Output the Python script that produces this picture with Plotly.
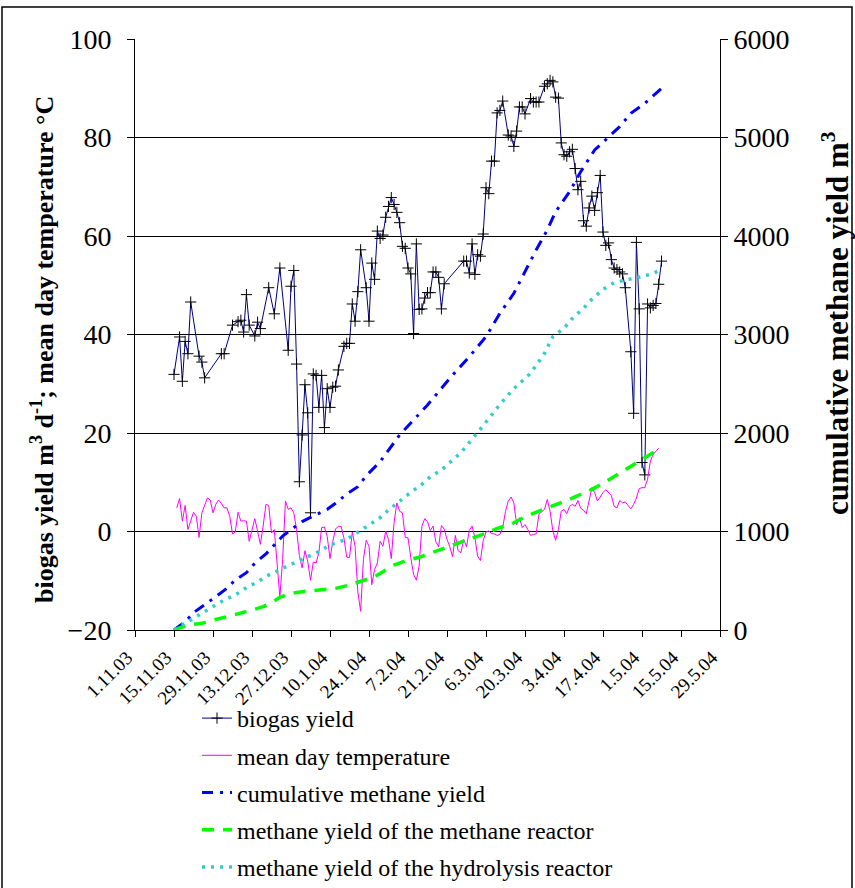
import datetime as dt
import plotly.graph_objects as go

# ---------------- data ----------------
start_date = dt.date(2003, 11, 1)

x_tick_labels = ["1.11.03", "15.11.03", "29.11.03", "13.12.03", "27.12.03", "10.1.04",
                 "24.1.04", "7.2.04", "21.2.04", "6.3.04", "20.3.04", "3.4.04",
                 "17.4.04", "1.5.04", "15.5.04", "29.5.04"]

# biogas yield m3/d  (day offsets from 1.11.03)
biogas_day = [14, 16, 17, 18, 19, 20, 23, 24, 25,
              31, 32, 35, 37, 38, 39, 40, 41, 43, 44, 45,
              48, 50, 52, 55, 56, 57, 58, 59, 60, 61, 62, 63, 64, 65, 66, 67, 68, 69, 70, 71, 72, 73,
              75, 76, 77, 78, 79, 80, 81, 83, 84, 85, 86, 87, 88, 89, 90, 91, 92, 93, 94, 95, 96, 97, 98, 99, 100,
              101, 102, 103, 104, 105, 106, 107, 108, 109, 110, 111,
              118, 119, 120, 121, 122, 123, 124, 125, 126, 127, 128, 129, 130, 131, 132,
              134, 135, 136, 137, 138, 139, 140,
              142, 143, 144, 145,
              147, 148, 149, 150, 151, 152, 153, 154, 155, 156, 157, 158, 159, 160, 161, 162, 163, 164, 165,
              166, 167, 168, 169, 170, 171, 172, 173, 174, 175, 176,
              178, 179, 180, 181, 182, 183, 184, 185, 186, 187, 188, 189]
biogas_val = [31.9, 39.5, 30.5, 38.6, 36.1, 46.6, 35.6, 34.4, 31.2,
              36.1, 36.1, 41.9, 42.6, 42.9, 40.5, 48.1, 41.9, 39.7, 42.5, 41.2,
              49.5, 44.2, 53.5, 36.8, 49.8, 53.0, 34.0, 10.1, 19.6, 29.8, 24.1, 3.8, 32.0, 31.7, 25.2, 31.7,
              21.1, 29.0, 25.2, 29.3, 29.5, 32.8,
              37.6, 38.2, 38.2, 46.2, 42.7, 48.7, 57.2, 49.5, 42.7, 54.5, 51.2, 61.0, 59.5, 60.2, 63.8, 66.0,
              67.8, 66.4, 64.8, 62.7, 57.9, 57.5, 53.5, 52.3, 40.2,
              58.4, 45.1, 45.2, 47.4, 48.5, 48.5, 52.7, 52.7, 51.6, 45.2, 50.3,
              54.9, 54.9, 52.5, 58.4, 52.2, 56.2, 55.9, 60.4, 69.8, 68.6, 75.2, 75.2, 85.0, 85.5, 87.4,
              80.5, 80.3, 78.2, 81.3, 86.2, 86.2, 84.8,
              87.9, 87.2, 87.2, 87.2,
              90.4, 90.9, 91.6, 91.3, 88.2, 88.0, 78.9, 76.5, 76.2, 77.1, 77.6, 73.7, 69.4, 71.1, 63.1, 62.0,
              65.7, 68.1, 65.2, 68.8, 72.3, 60.8, 58.1, 58.6, 55.2, 53.5, 53.2, 52.7, 52.3, 49.5,
              36.5, 24.0, 58.7, 45.2, 14.0, 11.5, 46.2, 45.4, 45.9, 46.3, 50.2, 54.9]

# mean day temperature (daily, first value on day offset 15)
temp_first_day = 15
temp_val = [4.8, 6.7, 2.1, 5.3, 0.4, 2.1, 3.9, 3.1, -1.2, 3.8, 5.5, 6.8, 6.4, 3.8, 5.5, 6.4, 5.7, 4.8,
            4.8, 3.1, -0.5, -0.1, 3.9, 2.1, 2.2, 2.1, -2.0, 0.1, 2.6, 0.1, -2.6, 1.1, 5.5, 5.3, -0.3,
            0.4, -5.7, -13.3, -5.7, 6.2, 4.5, 4.8, 3.8, 0.4, -4.9, -7.4, -3.9, -6.0, -9.9, -6.2, -6.4,
            -4.3, 0.8, 0.9, -1.0, -5.5, -2.0, 0.5, 1.1,
            1.0, -1.3, -5.2, -5.3, -0.1, -3.0, -12.3, -16.2, -5.7, -1.8, -3.0, -10.8, -7.7, -6.4, -2.0,
            -3.0, 0.1, -1.6, -5.5, 1.8, 5.8, 4.1, 3.8, -1.2, -1.3, -5.3, -8.7, -9.9, -7.0, 1.1, 2.6,
            2.0, 0.2, 1.1, -2.1, -3.1, 1.2, 0.5, -1.6, -3.1, -5.1, -0.8, -3.9, -4.3, -1.6, -3.1, 0.2,
            1.1, -1.2, -5.0, -5.9, -1.8, -0.1, 0.1, -0.4, -0.5, -0.8,
            -0.6, 0.8, 4.1, 6.2, 7.0, 5.8, 1.4, 2.8, 0.8, 1.4, 0.4, -0.8, -0.6, -0.5, 3.5, 4.1, 4.5,
            6.5, 4.1, 0.1, -1.8, 0.4, 4.1, 4.5, 3.6, 5.1, 5.5, 5.1, 6.3, 4.7, 4.3, 3.6, 6.2, 8.9, 7.9,
            6.2, 7.0, 7.9, 8.5, 8.0, 7.3, 5.1, 4.8, 6.3, 5.8, 6.0, 5.3, 4.6, 5.5, 6.8, 8.7, 8.9, 8.9,
            10.6, 14.3, 15.6, 16.3, 16.9]

# cumulative methane yield m3
cum_day = [14, 18, 21, 25, 29, 33, 36, 40, 43, 47, 50, 53, 57, 60, 64, 69, 72, 76, 80, 83,
           88, 95, 105, 113, 120, 126, 131, 136, 140, 144, 148, 151, 156, 160, 165, 169, 174, 178, 183, 187, 189]
cum_val = [0, 84, 176, 254, 338, 423, 508, 582, 677, 772, 863, 954, 1039, 1100, 1157, 1225, 1286, 1380, 1455, 1566,
           1709, 1980, 2284, 2555, 2775, 2978, 3215, 3418, 3638, 3858, 4061, 4247, 4450, 4653, 4873, 4975,
           5110, 5246, 5347, 5449, 5499]

# methane yield of the methane reactor m3
meth_day = [14, 19, 24, 27, 33, 38, 42, 46, 49, 52, 56, 60, 66, 72, 77, 81, 86, 90, 93, 98,
            102, 106, 110, 114, 118, 123, 127, 130, 135, 139, 143, 147, 151, 156, 160, 164, 168, 172, 176, 180,
            183, 187, 188]
meth_val = [0, 51, 68, 94, 135, 170, 203, 237, 277, 332, 373, 389, 406, 423, 457, 497, 541, 609, 660, 711,
            738, 779, 822, 856, 904, 954, 992, 1032, 1073, 1134, 1185, 1228, 1269, 1327, 1378, 1428, 1489,
            1556, 1631, 1692, 1743, 1810, 1834]

# methane yield of the hydrolysis reactor m3
hyd_day = [14, 19, 23, 27, 32, 36, 40, 44, 48, 53, 58, 62, 66, 70, 76, 80, 84, 88, 91, 95,
           99, 103, 106, 110, 117, 124, 131, 136, 142, 147, 150, 154, 157, 161, 164, 168, 172, 176, 182, 186, 188]
hyd_val = [0, 84, 152, 226, 305, 355, 430, 490, 558, 626, 693, 738, 795, 863, 921, 992, 1066, 1140, 1218, 1310,
           1398, 1479, 1556, 1624, 1800, 2040, 2290, 2450, 2606, 2809, 2978, 3063, 3164, 3266, 3357, 3459,
           3526, 3553, 3587, 3621, 3648]


def to_dates(days):
    return [start_date + dt.timedelta(days=d) for d in days]


temp_day = list(range(temp_first_day, temp_first_day + len(temp_val)))
tick_dates = to_dates([14 * i for i in range(len(x_tick_labels))])

# ---------------- figure ----------------
FONT = "Liberation Serif, Times New Roman, serif"
W, H = 855, 888
L, R, T, B = 135, 135, 39, 258
PW, PH = W - L - R, H - T - B


def px_x(x):
    return (x - L) / PW


def px_y(y):
    return (H - B - y) / PH


fig = go.Figure()

fig.add_trace(go.Scatter(
    x=to_dates(biogas_day), y=biogas_val, name="biogas yield", mode="lines+markers",
    line=dict(color="#000080", width=1),
    marker=dict(symbol="cross-thin", size=8, color="black", line=dict(color="black", width=1)),
    legendgroup="a"))
fig.add_trace(go.Scatter(
    x=to_dates(temp_day), y=temp_val, name="mean day temperature", mode="lines",
    line=dict(color="#FF00FF", width=1), legendgroup="b"))
fig.add_trace(go.Scatter(
    x=to_dates(cum_day), y=cum_val, name="cumulative methane yield", mode="lines", yaxis="y2",
    line=dict(color="#0000FF", width=3, dash="11px,7px,3px,7px"), legendgroup="c"))
fig.add_trace(go.Scatter(
    x=to_dates(meth_day), y=meth_val, name="methane yield of the methane reactor", mode="lines", yaxis="y2",
    line=dict(color="#00FF00", width=3.5, dash="12px,9px"), legendgroup="d"))
fig.add_trace(go.Scatter(
    x=to_dates(hyd_day), y=hyd_val, name="methane yield of the hydrolysis reactor", mode="lines", yaxis="y2",
    line=dict(color="#33CCCC", width=3.5, dash="3px,6px"), legendgroup="e"))

fig.update_layout(
    width=W, height=H,
    margin=dict(l=L, r=R, t=T, b=B, pad=0, autoexpand=False),
    paper_bgcolor="white", plot_bgcolor="white",
    font=dict(family=FONT, color="black"),
    showlegend=True,
    legend=dict(
        x=px_x(197), y=px_y(696), xanchor="left", yanchor="top",
        font=dict(family=FONT, size=24, color="black"),
        traceorder="grouped", tracegroupgap=3, bgcolor="rgba(0,0,0,0)", itemwidth=30),
    xaxis=dict(
        type="date",
        range=[start_date, start_date + dt.timedelta(days=210)],
        tickmode="array", tickvals=tick_dates, ticktext=x_tick_labels,
        tickangle=-45, tickfont=dict(family=FONT, size=19),
        ticks="outside", ticklen=6, tickcolor="black",
        ticklabelshift=-8, ticklabelstandoff=2,
        showline=True, linecolor="black", linewidth=1, mirror=False,
        showgrid=False, zeroline=False),
    yaxis=dict(
        range=[-20, 100], dtick=20, tick0=0,
        tickfont=dict(family=FONT, size=28),
        ticks="outside", ticklen=7, tickcolor="black", ticklabelstandoff=10,
        showline=True, linecolor="black", linewidth=1,
        showgrid=True, gridcolor="black", gridwidth=1, zeroline=False),
    yaxis2=dict(
        overlaying="y", side="right", range=[0, 6000], dtick=1000, tick0=0,
        tickfont=dict(family=FONT, size=28),
        ticks="outside", ticklen=7, tickcolor="black", ticklabelstandoff=0,
        showline=True, linecolor="black", linewidth=1,
        showgrid=False, zeroline=False),
    annotations=[
        dict(text="<b>biogas yield m<sup>3</sup> d<sup>-1</sup>; mean day temperature °C</b>",
             xref="paper", yref="paper", x=px_x(42), y=px_y(350), textangle=-90,
             showarrow=False, xanchor="center", yanchor="middle",
             font=dict(family=FONT, size=26, color="black")),
        dict(text="<b>cumulative methane yield m<sup>3</sup></b>",
             xref="paper", yref="paper", x=px_x(835), y=px_y(323), textangle=-90,
             showarrow=False, xanchor="center", yanchor="middle",
             font=dict(family=FONT, size=31, color="black")),
    ],
    shapes=[
        dict(type="rect", xref="paper", yref="paper",
             x0=px_x(2), x1=px_x(852), y0=px_y(895), y1=px_y(7),
             line=dict(color="black", width=1.5), fillcolor="rgba(0,0,0,0)", layer="above"),
    ],
)

fig.write_html("out.html", config={"displayModeBar": False},
               post_script="document.body.style.margin='0px';document.body.style.overflow='hidden';")
